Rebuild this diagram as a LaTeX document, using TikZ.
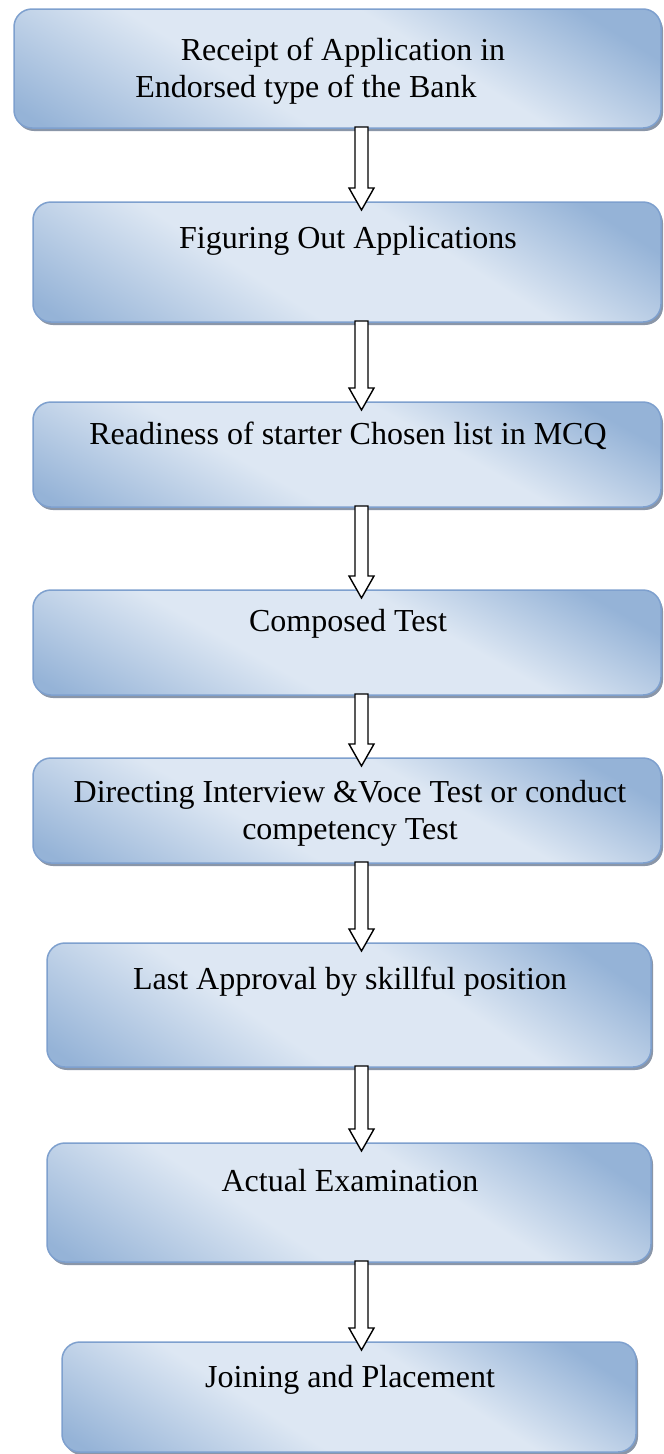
\documentclass[tikz,border=0pt]{standalone}
\usepackage{fontspec}
\setmainfont{Liberation Serif}
\usetikzlibrary{calc}
\definecolor{gdark}{RGB}{149,179,215}
\definecolor{glight}{RGB}{221,231,243}
\definecolor{gborder}{RGB}{126,160,206}
\definecolor{gshadow}{RGB}{138,150,168}
\pgfdeclarehorizontalshading{boxshade}{100bp}{color(0bp)=(gdark); color(27bp)=(gdark); color(43bp)=(glight); color(57bp)=(glight); color(70bp)=(gdark); color(100bp)=(gdark)}
\tikzset{
  boxn/.style={rectangle, inner sep=0pt, outer sep=0pt},
  lbl/.style={font=\fontsize{32}{37}\selectfont, align=center, inner sep=0pt, text=black},
  barrow/.style={draw=black, fill=white, line width=1.4pt, line join=miter},
  gcorner/.style={rounded corners=18pt}
}
\newcommand\gboxdraw[1]{%
  \fill[gshadow, gcorner] ([shift={(2pt,-3pt)}]#1.south west) rectangle ([shift={(2pt,-3pt)}]#1.north east);
  \pgfpointanchor{#1}{north west}\pgfgetlastxy{\gbx}{\gby}%
  \pgfpointanchor{#1}{south east}\pgfgetlastxy{\gex}{\gey}%
  \pgfmathsetlengthmacro\gbl{-0.3*(\gex-\gbx)}%
  \pgfmathsetlengthmacro\gbr{\gex-\gbx}%
  \pgfmathsetlengthmacro\gbd{\gey-\gby-2pt}%
  \pgfmathsetmacro\gbs{0.3*(\gex-\gbx)/(\gby-\gey)}%
  \begin{scope}
    \clip[gcorner] (#1.south west) rectangle (#1.north east);
    \begin{scope}[transform canvas={shift={(\gbx,\gby)}, xslant=-\gbs}]
      \shade[shading=boxshade] (\gbl,2pt) rectangle (\gbr,\gbd);
    \end{scope}
  \end{scope}
  \draw[gborder, line width=1.5pt, gcorner] (#1.south west) rectangle (#1.north east);
}
\newcommand\blockarrow[2]{%
  \draw[barrow] let \p1=(#1.south -| ax), \p2=(#2.north -| ax) in
    (\x1-6.5pt,\y1+1pt) -- (\x1+6.5pt,\y1+1pt) -- (\x1+6.5pt,\y2+14pt) --
    (\x1+12.5pt,\y2+14pt) -- (\x1,\y2-8pt) -- (\x1-12.5pt,\y2+14pt) --
    (\x1-6.5pt,\y2+14pt) -- cycle;
}
\begin{document}
\begin{tikzpicture}[x=1pt,y=-1pt]
\useasboundingbox (0,0) rectangle (664,1454);
\fill[white] (0,0) rectangle (664,1454);
\coordinate (ax) at (361.5,0);
% boxes
\node[boxn, minimum width=647pt, minimum height=119pt] (b1) at (337.5,68.5) {};
\node[boxn, minimum width=628pt, minimum height=120pt] (b2) at (347,262) {};
\node[boxn, minimum width=628pt, minimum height=105pt] (b3) at (347,454.5) {};
\node[boxn, minimum width=628pt, minimum height=105pt] (b4) at (347,642.5) {};
\node[boxn, minimum width=628pt, minimum height=105pt] (b5) at (347,810.5) {};
\node[boxn, minimum width=604pt, minimum height=124pt] (b6) at (349,1005) {};
\node[boxn, minimum width=604pt, minimum height=119pt] (b7) at (349,1202.5) {};
\node[boxn, minimum width=574pt, minimum height=110pt] (b8) at (349,1397) {};
\gboxdraw{b1}\gboxdraw{b2}\gboxdraw{b3}\gboxdraw{b4}
\gboxdraw{b5}\gboxdraw{b6}\gboxdraw{b7}\gboxdraw{b8}
% texts
\node[lbl] (t1) at (343,71) {Receipt of Application in\\Endorsed type of the Bank\rule{74pt}{0pt}};
\node[lbl] (t2) at (348,241) {Figuring Out Applications};
\node[lbl] (t3) at (348,436) {Readiness of starter Chosen list in MCQ};
\node[lbl] (t4) at (348,624) {Composed Test};
\node[lbl] (t5) at (350,813) {Directing Interview \&Voce Test or conduct\\competency Test};
\node[lbl] (t6) at (350,982) {Last Approval by skillful position};
\node[lbl] (t7) at (350,1181) {Actual Examination};
\node[lbl] (t8) at (350,1380) {Joining and Placement};
% arrows
\blockarrow{b1}{b2}
\blockarrow{b2}{b3}
\blockarrow{b3}{b4}
\blockarrow{b4}{b5}
\blockarrow{b5}{b6}
\blockarrow{b6}{b7}
\blockarrow{b7}{b8}
\end{tikzpicture}
\end{document}
